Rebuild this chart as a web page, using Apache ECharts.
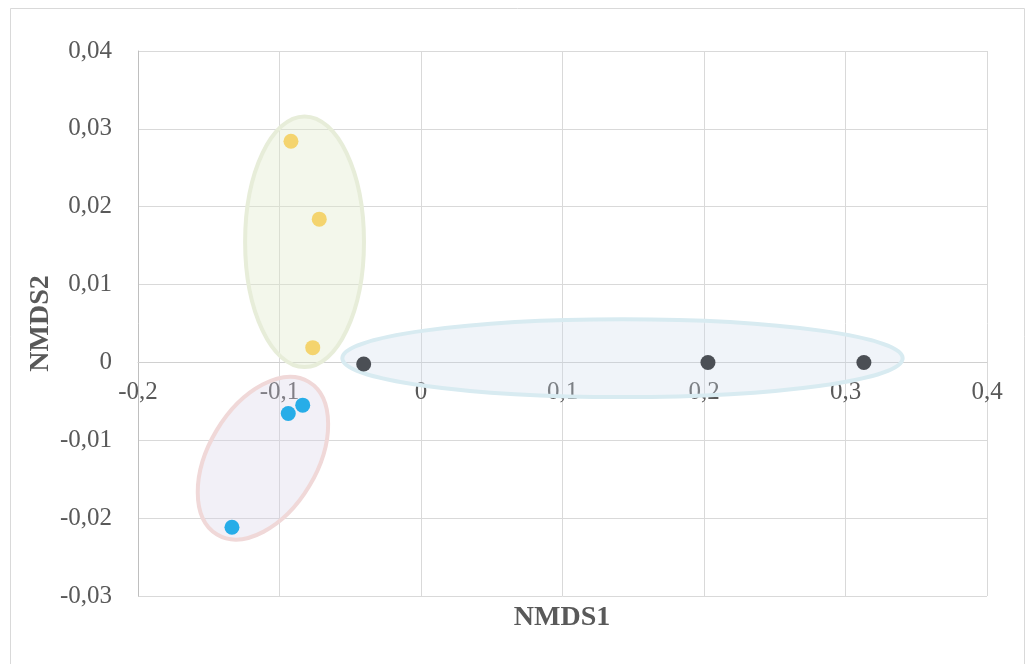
<!DOCTYPE html>
<html>
<head>
<meta charset="utf-8">
<script src="https://cdn.jsdelivr.net/npm/echarts@6/dist/echarts.min.js"></script>
<style>
html,body{margin:0;padding:0;background:#fff;}
#main{width:1026px;height:664px;}
</style>
</head>
<body>
<div id="main"></div>
<script>
// ---- data ----
const xTicks = [-0.2, -0.1, 0, 0.1, 0.2, 0.3, 0.4];
const yTicks = [-0.03, -0.02, -0.01, 0, 0.01, 0.02, 0.03, 0.04];

const groupYellowX = [-0.0919, -0.0719, -0.0765];
const groupYellowY = [0.0284, 0.0184, 0.0019];

const groupBlueX = [-0.0938, -0.0836, -0.1336];
const groupBlueY = [-0.00656, -0.00549, -0.02117];

const groupDarkX = [-0.0405, 0.2028, 0.313];
const groupDarkY = [-0.0002, 0.0, 0.0];

// ellipses: centre (data units), semi-axes (data units), tilt (degrees, clockwise)
const ellipseNames = ['yellow', 'dark', 'blue'];
const ellipseCX = [-0.0823, 0.1424, -0.1117];
const ellipseCY = [0.0155, 0.00055, -0.0123];
const ellipseSemiX = [0.042, 0.198, 0.0382];
const ellipseSemiY = [0.0161, 0.0050, 0.01144];
const ellipseTilt = [0, 0, 31];

// ---- styles ----
const FONT = "'Liberation Serif','Times New Roman',serif";
const TXT = '#595959';
const ellipseStyles = [
  {fill: 'rgba(222,232,200,0.36)', stroke: '#E7EDD9'},
  {fill: 'rgba(205,218,236,0.30)', stroke: '#D8EBF1'},
  {fill: 'rgba(216,208,230,0.32)', stroke: '#F0D8D8'}
];

function pts(xs, ys){ return xs.map((x,i)=>[x, ys[i]]); }
function fmt(v){
  const r = Math.round(v*100)/100;
  return (r === 0 ? '0' : String(r)).replace('.', ',');
}

const ellipseData = ellipseCX.map((cx,i)=>[cx, ellipseCY[i], ellipseSemiX[i], ellipseSemiY[i], ellipseTilt[i]]);

const chart = echarts.init(document.getElementById('main'), null, {renderer:'canvas'});
chart.setOption({
  backgroundColor: '#fff',
  animation: false,
  grid: {left: 138, right: 39, top: 51, bottom: 68, containLabel: false, outerBoundsMode: 'none'},
  xAxis: {
    type: 'value', min: xTicks[0], max: xTicks[xTicks.length-1], interval: 0.1,
    axisLine: {show: true, onZero: false, lineStyle: {color: '#d0d0d0', width: 1}},
    axisTick: {show: false},
    axisLabel: {formatter: fmt, color: TXT, fontFamily: FONT, fontSize: 25, margin: 18},
    splitLine: {show: true, lineStyle: {color: '#d9d9d9', width: 1}}
  },
  yAxis: {
    type: 'value', min: yTicks[0], max: yTicks[yTicks.length-1], interval: 0.01,
    name: 'NMDS2', nameLocation: 'middle', nameGap: 83, nameRotate: 90, nameMoveOverlap: false,
    nameTextStyle: {color: TXT, fontFamily: FONT, fontSize: 28, fontWeight: 'bold'},
    axisLine: {show: true, onZero: false, lineStyle: {color: '#bfbfbf', width: 1}},
    axisTick: {show: false},
    axisLabel: {formatter: fmt, color: TXT, fontFamily: FONT, fontSize: 25, margin: 26},
    splitLine: {show: true, lineStyle: {color: '#d9d9d9', width: 1}}
  },
  graphic: [
    {type: 'rect', shape: {x: 10.5, y: 8.5, width: 1014, height: 700}, style: {fill: 'none', stroke: '#d9d9d9', lineWidth: 1}, z: -10, silent: true},
    {type: 'text', x: 562, y: 618, style: {text: 'NMDS1', fill: TXT, font: "bold 28px 'Liberation Serif','Times New Roman',serif", textAlign: 'center', textVerticalAlign: 'middle'}}
  ],
  series: [
    {
      type: 'custom', name: 'ellipses', data: ellipseData, z: 1, silent: true,
      renderItem: function(params, api){
        const c = api.coord([api.value(0), api.value(1)]);
        const s = api.size([api.value(2), api.value(3)]);
        const st = ellipseStyles[params.dataIndex];
        return {
          type: 'ellipse', x: c[0], y: c[1], rotation: -api.value(4)*Math.PI/180,
          shape: {cx: 0, cy: 0, rx: s[0], ry: s[1]},
          style: {fill: st.fill, stroke: st.stroke, lineWidth: 4}
        };
      }
    },
    {type: 'scatter', name: 'yellow', data: pts(groupYellowX, groupYellowY), symbolSize: 15, itemStyle: {color: '#F4D46E', opacity: 1}, z: 5},
    {type: 'scatter', name: 'blue', data: pts(groupBlueX, groupBlueY), symbolSize: 15, itemStyle: {color: '#27ADE8', opacity: 1}, z: 5},
    {type: 'scatter', name: 'dark', data: pts(groupDarkX, groupDarkY), symbolSize: 15, itemStyle: {color: '#4B4F55', opacity: 1}, z: 5}
  ]
});
// place the x axis (line + labels) on y = 0, as in the source chart
const yZeroPx = chart.convertToPixel({yAxisIndex: 0}, 0);
const yMinPx = chart.convertToPixel({yAxisIndex: 0}, yTicks[0]);
chart.setOption({xAxis: {offset: yZeroPx - yMinPx}});
</script>
</body>
</html>
